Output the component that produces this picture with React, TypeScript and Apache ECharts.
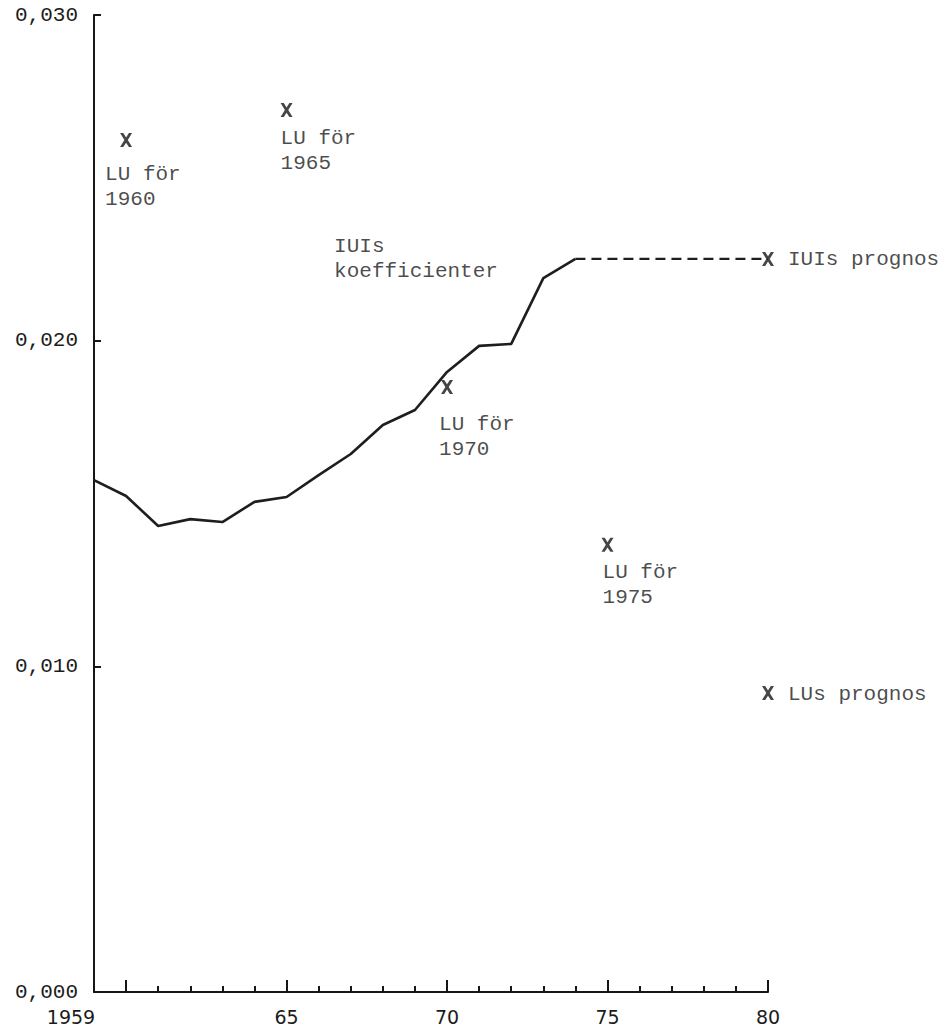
import { useEffect, useRef } from "react";
import * as echarts from "echarts";

// IUIs koefficienter (solid line)
const iuiYears = [1959, 1960, 1961, 1962, 1963, 1964, 1965, 1966, 1967, 1968, 1969, 1970, 1971, 1972, 1973, 1974];
const iuiValues = [0.01572, 0.01523, 0.01431, 0.01452, 0.01443, 0.01505, 0.0152, 0.01587, 0.01652, 0.01741, 0.01787, 0.01904, 0.01984, 0.0199, 0.02192, 0.02251];

// IUIs prognos (dashed line)
const prognosYears = [1974, 1980];
const prognosValues = [0.02251, 0.02251];

// Marked points (X)
const markYears = [1960, 1965, 1970, 1975, 1980, 1980];
const markValues = [0.02616, 0.02708, 0.01858, 0.01373, 0.00918, 0.02251];
const markLabels = ["LU för\n1960", "LU för\n1965", "LU för\n1970", "LU för\n1975", "LUs prognos", "IUIs prognos"];

// Free annotation
const noteText = "IUIs\nkoefficienter";
const noteAt = [1966.48, 0.02326];

// Axis ticks / labels
const majorTickYears = [1960, 1965, 1970, 1975, 1980];
const minorTickYears = [1961, 1962, 1963, 1964, 1966, 1967, 1968, 1969, 1971, 1972, 1973, 1974, 1976, 1977, 1978, 1979];
const xLabelYears = [1959, 1965, 1970, 1975, 1980];
const yTicks = [0, 0.01, 0.02, 0.03];

// label placement (style, not data)
const labelPlacement = [
  { offset: [-21, 22], verticalAlign: "top" },
  { offset: [-6, 16], verticalAlign: "top" },
  { offset: [-8, 25], verticalAlign: "top" },
  { offset: [-5, 15], verticalAlign: "top" },
  { offset: [20, 1], verticalAlign: "middle" },
  { offset: [20, 1], verticalAlign: "middle" },
];

const INK = "#161616";
const TEXT = "#1c1c1c";
const TYPE_FONT = "'Liberation Mono', 'DejaVu Sans Mono', monospace";
const XSYMBOL = "path://M0,0L3.2,0L6,4.4L8.8,0L12,0L7.7,7L12,14L8.8,14L6,9.6L3.2,14L0,14L4.3,7Z";

export default function App() {
  const ref = useRef<HTMLDivElement>(null);
  useEffect(() => {
    if (!ref.current) return;
    const chart = echarts.init(ref.current, null, { renderer: "svg" });
    const labelTextStyle = {
      fontFamily: TYPE_FONT,
      fontSize: 21,
      lineHeight: 25,
      color: TEXT,
    };
    chart.setOption({
      animation: false,
      backgroundColor: "#fff",
      grid: { left: 94, right: 182, top: 15, bottom: 41 },
      xAxis: [
        {
          type: "value",
          position: "bottom",
          min: 1959,
          max: 1980,
          axisLine: { lineStyle: { color: INK, width: 2 } },
          axisTick: {
            inside: true,
            length: 12,
            customValues: majorTickYears,
            lineStyle: { color: INK, width: 2 },
          },
          axisLabel: {
            customValues: xLabelYears,
            margin: 15,
            fontFamily: "'DejaVu Sans', sans-serif",
            fontSize: 19,
            fontWeight: "normal",
            color: TEXT,
            formatter: (v: number) => (v === 1959 ? "{a|1959}" : String(v).slice(2)),
            rich: {
              a: {
                fontFamily: "'DejaVu Sans', sans-serif",
                fontSize: 19,
                fontWeight: "normal",
                color: TEXT,
                padding: [0, 46, 0, 0],
              },
            },
          },
          splitLine: { show: false },
        },
        {
          type: "value",
          position: "bottom",
          min: 1959,
          max: 1980,
          axisLine: { show: false },
          axisTick: {
            inside: true,
            length: 6,
            customValues: minorTickYears,
            lineStyle: { color: INK, width: 2 },
          },
          axisLabel: { show: false },
          splitLine: { show: false },
        },
      ],
      yAxis: {
        type: "value",
        min: 0,
        max: 0.03,
        interval: 0.01,
        axisLine: { show: true, lineStyle: { color: INK, width: 2 } },
        axisTick: { show: true, inside: true, length: 7, customValues: yTicks, lineStyle: { color: INK, width: 2 } },
        axisLabel: {
          margin: 16,
          fontFamily: TYPE_FONT,
          fontSize: 21,
          fontWeight: "normal",
          color: TEXT,
          formatter: (v: number) => v.toFixed(3).replace(".", ","),
        },
        splitLine: { show: false },
      },
      series: [
        {
          name: "IUIs koefficienter",
          type: "line",
          data: iuiYears.map((y, i) => [y, iuiValues[i]]),
          symbol: "none",
          lineStyle: { color: "#1e1e1e", width: 2.6 },
          z: 3,
        },
        {
          name: "IUIs prognos",
          type: "line",
          data: prognosYears.map((y, i) => [y, prognosValues[i]]),
          symbol: "none",
          lineStyle: { color: "#1e1e1e", width: 2.4, type: [10, 6] },
          z: 3,
        },
        {
          name: "LU",
          type: "scatter",
          data: markYears.map((y, i) => ({
            value: [y, markValues[i]],
            label: {
              show: true,
              position: "inside",
              align: "left",
              verticalAlign: labelPlacement[i].verticalAlign,
              offset: labelPlacement[i].offset,
              formatter: markLabels[i],
              ...labelTextStyle,
            },
          })),
          symbol: XSYMBOL,
          symbolSize: [12, 14],
          itemStyle: { color: INK },
          z: 5,
        },
        {
          name: "note",
          type: "scatter",
          data: [
            {
              value: noteAt,
              label: {
                show: true,
                position: "inside",
                align: "left",
                verticalAlign: "top",
                formatter: noteText,
                ...labelTextStyle,
              },
            },
          ],
          symbolSize: 1,
          itemStyle: { color: "transparent" },
          silent: true,
        },
      ],
    });
    return () => chart.dispose();
  }, []);
  return (
    <div
      ref={ref}
      style={{ position: "absolute", left: 0, top: 0, width: 950, height: 1033 }}
    />
  );
}
